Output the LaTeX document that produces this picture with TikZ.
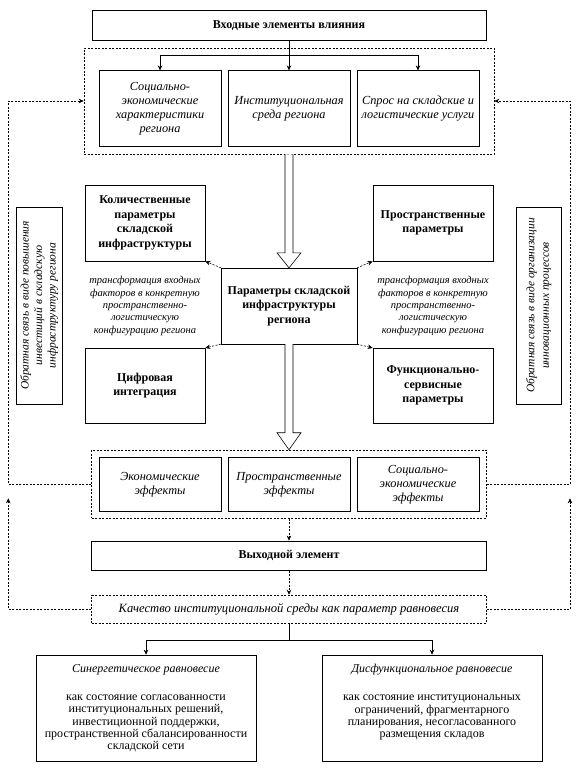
\documentclass[tikz,border=0pt]{standalone}
\usepackage{fontspec}
\setmainfont{Liberation Serif}
\usetikzlibrary{calc,arrows.meta}
\tikzset{
  box/.style={draw,line width=.6pt,inner sep=2pt,align=center},
  boldbox/.style={box,font=\fontsize{12}{14.5}\selectfont\bfseries},
  itbox/.style={box,font=\fontsize{12.3}{14}\selectfont\itshape},
  dotbox/.style={draw,line width=.6pt,dash pattern=on 2pt off 1.5pt,inner sep=0pt},
  dotline/.style={line width=.6pt,dash pattern=on 2pt off 1.5pt,->},
  note/.style={align=center,font=\fontsize{10.5}{12.3}\selectfont\itshape},
  hollow/.style={line width=.6pt,fill=white}
}
\begin{document}
\begin{tikzpicture}[>={Stealth[length=5pt,width=4.5pt]},x=1pt,y=-1pt]
\useasboundingbox (0,0) rectangle (577,771);
% входные элементы
\node[boldbox,minimum width=394pt,minimum height=30pt] (in) at (289,25.7) {Входные элементы влияния};
\node[dotbox,minimum width=410pt,minimum height=106pt] (grpin) at (289,101) {};
\node[itbox,minimum width=122pt,minimum height=76pt] (a1) at (160,108.7) {Социально-\\экономические\\характеристики\\региона};
\node[itbox,minimum width=122pt,minimum height=76pt] (a2) at (289,108.7) {Институциональная\\среда региона};
\node[itbox,minimum width=122pt,minimum height=76pt] (a3) at (418,108.7) {Спрос на складские и\\логистические услуги};
\coordinate (fork) at ($(in.south)!.5!(a2.north)$);
\draw[line width=.6pt,->] (in.south) -- (a2.north);
\draw[line width=.6pt,->] (fork) -| (a1.north);
\draw[line width=.6pt,->] (fork) -| (a3.north);
% параметры
\node[boldbox,minimum width=135.6pt,minimum height=75.7pt] (par) at (289,306) {Параметры складской\\инфраструктуры\\региона};
\node[boldbox,minimum width=120pt,minimum height=76pt] (q1) at (145,223) {Количественные\\параметры\\складской\\инфраструктуры};
\node[boldbox,minimum width=120pt,minimum height=76pt] (q2) at (433,223) {Пространственные\\параметры};
\node[boldbox,minimum width=120pt,minimum height=75pt] (q3) at (145,385.7) {Цифровая\\интеграция};
\node[boldbox,minimum width=120pt,minimum height=75pt] (q4) at (433,385.7) {Функционально-\\сервисные\\параметры};
\draw[dotline] (par.north west) -- (q1.south east);
\draw[dotline] (par.north east) -- (q2.south west);
\draw[dotline] (par.south west) -- (q3.north east);
\draw[dotline] (par.south east) -- (q4.north west);
\node[note] (tl) at (145,306) {трансформация входных\\факторов в конкретную\\пространственно-\\логистическую\\конфигурацию региона};
\node[note] (tr) at (433,306) {трансформация входных\\факторов в конкретную\\пространственно-\\логистическую\\конфигурацию региона};
\node[itbox,rotate=90,minimum width=197pt,minimum height=45.5pt,font=\fontsize{11.5}{13.5}\selectfont\itshape] (fbl) at (39.3,305.5) {Обратная связь в виде повышения\\инвестиций в складскую\\инфраструктуру региона};
\node[itbox,rotate=90,minimum width=197pt,minimum height=45.5pt,font=\fontsize{11.5}{14.5}\selectfont\itshape] (fbr) at (538.8,305.5) {Обратная связь в виде организации\\инновационных процессов};
\draw[hollow] ([xshift=-4pt]grpin.south) -- ([xshift=-4pt,yshift=15pt]par.north) -- ([xshift=-12pt,yshift=15pt]par.north) -- (par.north) -- ([xshift=12pt,yshift=15pt]par.north) -- ([xshift=4pt,yshift=15pt]par.north) -- ([xshift=4pt]grpin.south);
% эффекты
\node[dotbox,minimum width=394.6pt,minimum height=68.3pt] (grpout) at (289,484.2) {};
\node[itbox,minimum width=122pt,minimum height=53.3pt] (b1) at (160,484.3) {Экономические\\эффекты};
\node[itbox,minimum width=122pt,minimum height=53.3pt] (b2) at (289,484.3) {Пространственные\\эффекты};
\node[itbox,minimum width=122pt,minimum height=53.3pt] (b3) at (418,484.3) {Социально-\\экономические\\эффекты};
\draw[hollow] ([xshift=-4pt]par.south) -- ([xshift=-4pt,yshift=17pt]grpout.north) -- ([xshift=-12pt,yshift=17pt]grpout.north) -- (grpout.north) -- ([xshift=12pt,yshift=17pt]grpout.north) -- ([xshift=4pt,yshift=17pt]grpout.north) -- ([xshift=4pt]par.south);
% выход
\node[boldbox,minimum width=394.6pt,minimum height=29.7pt] (out) at (289,555.8) {Выходной элемент};
\node[dotbox,minimum width=394.6pt,minimum height=28.3pt,font=\fontsize{12.6}{14}\selectfont\itshape] (qual) at (289,609.2) {Качество институциональной среды как параметр равновесия};
\draw[dotline] (grpout.south) -- (out.north);
\draw[dotline] (out.south) -- (qual.north);
% обратные связи
\coordinate (lx) at (8.3,0);
\coordinate (rx) at (570,0);
\coordinate (lup) at (8.3,498.3);
\coordinate (rup) at (570,498.3);
\draw[dotline] (grpout.west) -| (lx |- grpin.west) -- (grpin.west);
\draw[dotline] (grpout.east) -| (rx |- grpin.east) -- (grpin.east);
\draw[dotline] (qual.west) -| (lup);
\draw[dotline] (qual.east) -| (rup);
% равновесие
\node[box,minimum width=220pt,minimum height=106pt] (syn) at (146,708) {};
\node[box,minimum width=220pt,minimum height=106pt] (dys) at (432,708) {};
\node[anchor=north,align=center,font=\fontsize{12}{12.3}\selectfont] (syntx) at ([yshift=-6pt]syn.north) {\textit{Синергетическое равновесие}\\[16pt]как состояние согласованности\\институциональных решений,\\инвестиционной поддержки,\\пространственной сбалансированности\\складской сети};
\node[anchor=north,align=center,font=\fontsize{12}{12.3}\selectfont] (dystx) at ([yshift=-6pt]dys.north) {\textit{Дисфункциональное равновесие}\\[16pt]как состояние институциональных\\ограничений, фрагментарного\\планирования, несогласованного\\размещения складов};
\draw[line width=.6pt,->] (qual.south) -- ++(0,16.7) -| (syn.north);
\draw[line width=.6pt,->] (qual.south) -- ++(0,16.7) -| (dys.north);
\end{tikzpicture}
\end{document}
